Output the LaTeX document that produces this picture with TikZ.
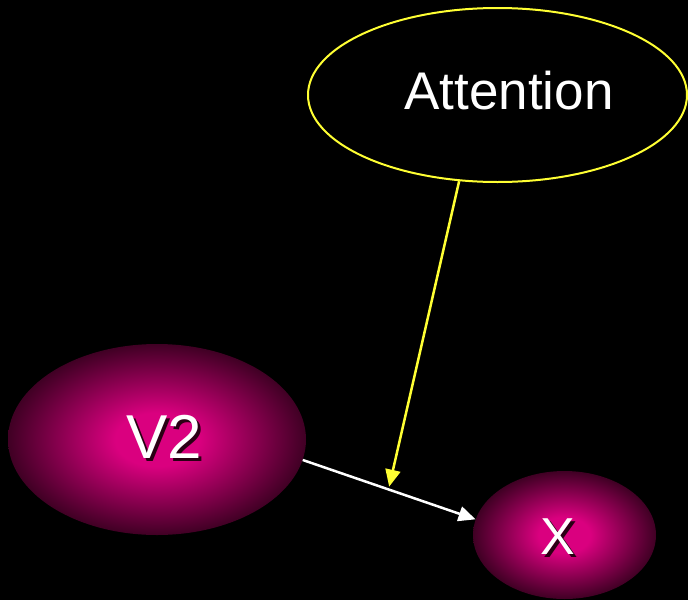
\documentclass[tikz,border=0pt]{standalone}
\usepackage{fontspec}
\setmainfont{Liberation Sans}
\usetikzlibrary{arrows.meta, shapes.geometric, calc}
\definecolor{attYellow}{HTML}{FFFF33}
\definecolor{areaPink}{HTML}{DA007F}
\definecolor{areaDark}{HTML}{400024}
\definecolor{textShade}{HTML}{2A0014}
\pgfdeclareradialshading{areaGlow}{\pgfpoint{0bp}{0bp}}{color(0bp)=(areaPink);
  color(7bp)=(areaPink); color(25bp)=(areaDark); color(50bp)=(areaDark)}
\newcommand{\shadowed}[1]{\rlap{\kern3pt\raisebox{-3pt}{\color{textShade}#1}}#1}
\tikzset{
  arrowW/.style={-{Triangle[length=17pt, width=15pt]}, white, line width=2.5pt},
  arrowY/.style={-{Triangle[length=17pt, width=15pt]}, attYellow, line width=2.5pt},
  areaNode/.style={ellipse, inner sep=0pt, shading=areaGlow},
  attNode/.style={ellipse, inner sep=0pt, draw=attYellow, line width=2pt},
  lbl/.style={text=white, inner sep=0pt},
}
\begin{document}
\begin{tikzpicture}[x=1pt, y=-1pt]
  \fill[black] (0,0) rectangle (688,600);
  \useasboundingbox (0,0) rectangle (688,600);
  % areas
  \node[attNode, minimum width=379pt, minimum height=174pt] (att) at (497.5,95) {};
  \node[areaNode, minimum width=298pt, minimum height=191pt] (v2) at (157,439.5) {};
  \node[areaNode, minimum width=183pt, minimum height=128pt] (x) at (564.5,535) {};
  % labels
  \node[lbl, font=\fontsize{53}{60}\selectfont] (attlbl) at (509,91) {Attention};
  \node[lbl, font=\fontsize{62}{70}\selectfont] (v2lbl) at (164,438) {\shadowed{V2}};
  \node[lbl, font=\fontsize{52}{60}\selectfont] (xlbl) at (558,538) {\shadowed{X}};
  % connections
  \draw[arrowW] (v2.-8) -- (x.170);
  \coordinate (hit) at ($(v2.-8)!0.5!(x.170)$);
  \draw[arrowY] (att.-114) -- ([yshift=3pt]hit);
\end{tikzpicture}
\end{document}
